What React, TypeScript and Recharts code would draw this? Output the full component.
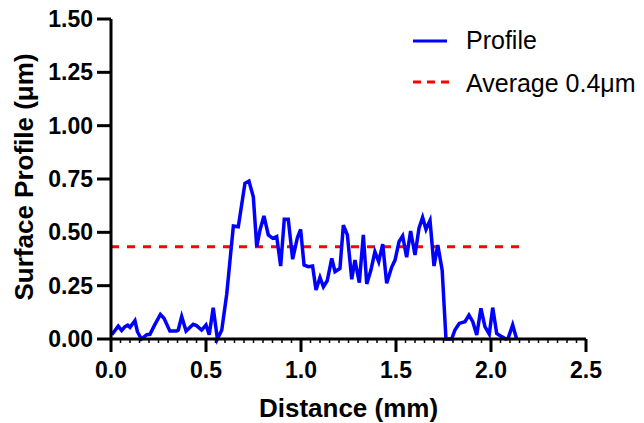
import { LineChart, Line, XAxis, YAxis, Label } from "recharts";

const distance = [
  0.004, 0.038, 0.056, 0.074, 0.088, 0.1, 0.126, 0.139, 0.16, 0.188, 0.205, 0.23, 0.26, 0.279, 0.31, 0.345,
  0.354, 0.372, 0.395, 0.433, 0.45, 0.477, 0.5, 0.517, 0.538, 0.56, 0.583, 0.609, 0.644, 0.67, 0.705, 0.726,
  0.749, 0.767, 0.784, 0.805, 0.828, 0.851, 0.872, 0.893, 0.912, 0.933, 0.956, 0.981, 0.998, 1.016, 1.038,
  1.061, 1.079, 1.1, 1.118, 1.138, 1.162, 1.179, 1.205, 1.223, 1.244, 1.267, 1.284, 1.307, 1.328, 1.346,
  1.368, 1.389, 1.409, 1.43, 1.451, 1.477, 1.495, 1.516, 1.535, 1.556, 1.577, 1.6, 1.621, 1.64, 1.658, 1.679,
  1.7, 1.72, 1.743, 1.763, 1.793, 1.81, 1.833, 1.863, 1.884, 1.904, 1.925, 1.947, 1.968, 1.991, 2.009, 2.03,
  2.056, 2.079, 2.09, 2.114, 2.135,
];

const profile = [
  0.02, 0.06, 0.04, 0.058, 0.065, 0.055, 0.086, 0.034, 0.0, 0.02, 0.022, 0.066, 0.115, 0.097, 0.037, 0.037,
  0.042, 0.105, 0.037, 0.069, 0.063, 0.042, 0.066, 0.02, 0.147, 0.0, 0.042, 0.21, 0.53, 0.526, 0.73, 0.74,
  0.667, 0.433, 0.51, 0.577, 0.488, 0.472, 0.48, 0.342, 0.561, 0.561, 0.374, 0.475, 0.514, 0.347, 0.339,
  0.342, 0.23, 0.289, 0.245, 0.273, 0.378, 0.316, 0.331, 0.534, 0.488, 0.28, 0.37, 0.264, 0.488, 0.258,
  0.323, 0.409, 0.362, 0.445, 0.261, 0.336, 0.37, 0.456, 0.483, 0.383, 0.506, 0.394, 0.519, 0.57, 0.514, 0.555,
  0.342, 0.44, 0.323, 0.0, 0.0, 0.042, 0.073, 0.081, 0.112, 0.081, 0.019, 0.144, 0.058, 0.023, 0.147, 0.026,
  0.011, 0.0, 0.003, 0.066, 0.0,
];

const averageX = [0, 2.15];
const averageValue = 0.433;

const xMajorTicks = [0, 0.5, 1.0, 1.5, 2.0, 2.5];
const xLabels = ["0.0", "0.5", "1.0", "1.5", "2.0", "2.5"];
const yTicks = [0, 0.25, 0.5, 0.75, 1.0, 1.25, 1.5];

// minor ticks every 0.05 along x
const xAllTicks: number[] = [];
for (let i = 0; i <= 50; i++) xAllTicks.push(Math.round(i * 5) / 100);

type Row = { x: number; y?: number; avg?: number };
const rows: Row[] = [
  ...distance.map((x, i) => ({ x, y: profile[i] })),
  ...averageX.map((x) => ({ x, avg: averageValue })),
].sort((a, b) => a.x - b.x);

const FONT = "'Liberation Sans', Arial, sans-serif";

function XTick(props: any) {
  const { x, y, payload } = props;
  const v = payload.value;
  const idx = xMajorTicks.findIndex((t) => Math.abs(t - v) < 1e-6);
  if (idx < 0) {
    return <line x1={x} x2={x} y1={y} y2={y + 4} stroke="#000" strokeWidth={1.5} />;
  }
  return (
    <g>
      <line x1={x} x2={x} y1={y} y2={y + 13} stroke="#000" strokeWidth={3} />
      <text x={x} y={y + 39} textAnchor="middle" fontSize={23} fontWeight="bold" fill="#000" fontFamily={FONT}>
        {xLabels[idx]}
      </text>
    </g>
  );
}

function YTitle() {
  return (
    <text x={33} y={177} transform="rotate(-90, 33, 177)" textAnchor="middle" fontSize={26} fontWeight="bold"
      fill="#000" fontFamily={FONT}>
      Surface Profile (μm)
    </text>
  );
}

export default function App() {
  return (
    <div style={{ position: "absolute", left: 0, top: 0, width: 644, height: 423, background: "#fff", fontFamily: FONT }}>
      <LineChart width={644} height={423} data={rows} margin={{ top: 19, right: 58, bottom: 0, left: 14 }}>
        <XAxis dataKey="x" type="number" domain={[0, 2.5]} ticks={xAllTicks} interval={0} height={84}
          axisLine={{ stroke: "#000", strokeWidth: 3 }} tickLine={false} tickSize={0} tickMargin={0} tick={<XTick />}>
          <Label value="Distance (mm)" position="insideBottom" offset={6} fontSize={26} fontWeight="bold" fill="#000" />
        </XAxis>
        <YAxis type="number" domain={[0, 1.5]} ticks={yTicks} width={97} interval={0}
          tickFormatter={(v: number) => v.toFixed(2)}
          axisLine={{ stroke: "#000", strokeWidth: 3 }} tickLine={{ stroke: "#000", strokeWidth: 3 }}
          tickSize={14} tickMargin={4} tick={{ fontSize: 23, fontWeight: "bold", fill: "#000" }}>
          <Label content={<YTitle />} />
        </YAxis>
        <Line dataKey="avg" stroke="#ff0000" strokeWidth={3} strokeDasharray="8 8" dot={false}
          connectNulls isAnimationActive={false} />
        <Line dataKey="y" stroke="#0000ff" strokeWidth={3.5} dot={false} type="linear"
          connectNulls isAnimationActive={false} />
      </LineChart>
      <svg width={644} height={120} style={{ position: "absolute", left: 0, top: 0 }}>
        <line x1={413} x2={447} y1={41} y2={41} stroke="#0000ff" strokeWidth={3} />
        <text x={466} y={49} fontSize={25} fill="#000" fontFamily={FONT}>Profile</text>
        <line x1={413} x2={449} y1={82} y2={82} stroke="#ff0000" strokeWidth={3} strokeDasharray="8 6" />
        <text x={466} y={92} fontSize={25} fill="#000" fontFamily={FONT}>Average 0.4μm</text>
      </svg>
    </div>
  );
}
